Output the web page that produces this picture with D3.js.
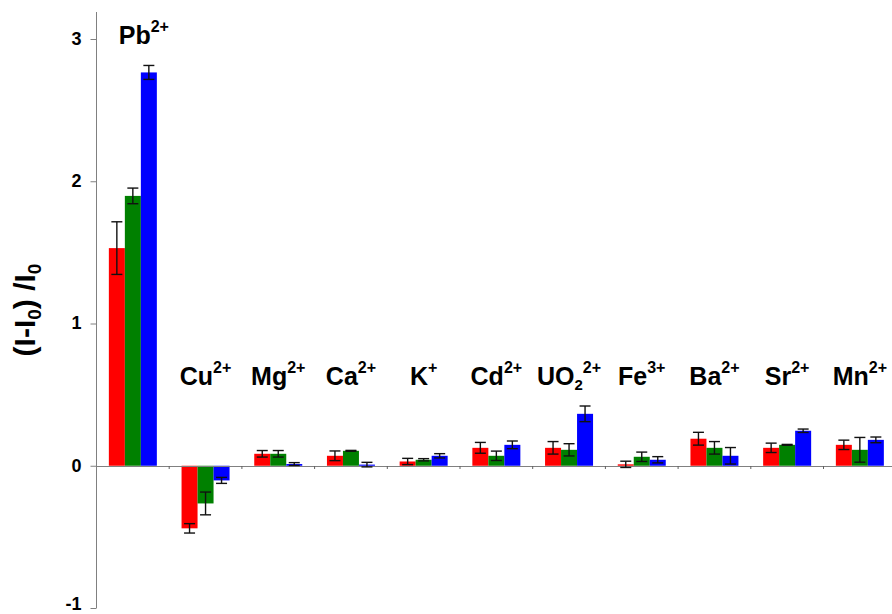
<!DOCTYPE html>
<html>
<head>
<meta charset="utf-8">
<script src="https://cdn.jsdelivr.net/npm/d3@7"></script>
<style>
  body { margin: 0; background: #fff; }
  svg { display: block; }
  text { font-family: Arial, "Liberation Sans", sans-serif; font-weight: bold; fill: #000; }
</style>
</head>
<body>
<svg id="chart" width="892" height="614"></svg>
<script>
// Metal ions tested (symbol, optional subscript, charge)
const ions = ["Pb", "Cu", "Mg", "Ca", "K", "Cd", "UO", "Fe", "Ba", "Sr", "Mn"];
const ionSubscripts = ["", "", "", "", "", "", "2", "", "", "", ""];
const ionCharges = ["2+", "2+", "2+", "2+", "+", "2+", "2+", "3+", "2+", "2+", "2+"];

// Relative response (I-I0)/I0 with error bars for the three series
const redValues   = [1.53, -0.44, 0.084, 0.07, 0.03, 0.126, 0.126, 0.01, 0.19, 0.126, 0.147];
const redErrors   = [0.185, 0.033, 0.023, 0.034, 0.022, 0.038, 0.044, 0.022, 0.045, 0.033, 0.033];
const greenValues = [1.897, -0.265, 0.084, 0.105, 0.042, 0.07, 0.112, 0.063, 0.126, 0.147, 0.112];
const greenErrors = [0.055, 0.08, 0.023, 0.003, 0.008, 0.033, 0.043, 0.033, 0.044, 0.003, 0.087];
const blueValues  = [2.765, -0.103, 0.012, 0.008, 0.07, 0.147, 0.365, 0.042, 0.07, 0.246, 0.182];
const blueErrors  = [0.049, 0.021, 0.01, 0.016, 0.015, 0.027, 0.055, 0.022, 0.058, 0.012, 0.02];

const yTicks = [-1, 0, 1, 2, 3];

const seriesValues = [redValues, greenValues, blueValues];
const seriesErrors = [redErrors, greenErrors, blueErrors];
const seriesColors = ["#ff0000", "#008000", "#0000ff"];

const svg = d3.select("#chart");
const axisX = 96.5;
const axisGray = "#808080";

const y = d3.scaleLinear().domain([-1, 3]).range([608, 39]);
const x = d3.scaleBand().domain(ions).range([axisX, axisX + 72.7 * ions.length]);
const groupWidth = 48;
const xs = d3.scaleBand().domain(d3.range(seriesValues.length)).range([0, groupWidth]);
const groupOffset = (x.bandwidth() - groupWidth) / 2;
const y0 = y(0);

// Y axis
const yAxis = d3.axisLeft(y)
  .tickValues(yTicks)
  .tickSize(6)
  .tickSizeOuter(0)
  .tickPadding(9)
  .tickFormat(d => String(d));
const gy = svg.append("g").attr("transform", `translate(${axisX},0)`).call(yAxis);
gy.select(".domain").remove();
gy.selectAll(".tick line").attr("stroke", axisGray);
gy.selectAll(".tick text")
  .attr("font-size", 18)
  .attr("font-family", "Arial, 'Liberation Sans', sans-serif")
  .attr("fill", "#000")
  // the lowest label sits against the bottom edge, so it is raised a little
  .attr("dy", d => d === yTicks[0] ? "0.1em" : "0.3em");

svg.append("line")
  .attr("x1", axisX).attr("x2", axisX)
  .attr("y1", 12).attr("y2", 608)
  .attr("stroke", axisGray);

// Bars
seriesValues.forEach((vals, s) => {
  svg.append("g").selectAll("rect")
    .data(vals)
    .join("rect")
    .attr("x", (d, i) => x(ions[i]) + groupOffset + xs(s))
    .attr("width", xs.bandwidth())
    .attr("y", d => Math.min(y(d), y0))
    .attr("height", d => Math.abs(y(d) - y0))
    .attr("fill", seriesColors[s]);
});

// Zero line and small category ticks
svg.append("line")
  .attr("x1", axisX).attr("x2", 892)
  .attr("y1", Math.round(y0) + 0.5).attr("y2", Math.round(y0) + 0.5)
  .attr("stroke", axisGray);

svg.append("g").selectAll("line")
  .data(ions.slice(0, -1))
  .join("line")
  .attr("x1", d => x(d) + x.bandwidth())
  .attr("x2", d => x(d) + x.bandwidth())
  .attr("y1", Math.round(y0))
  .attr("y2", Math.round(y0) + 3)
  .attr("stroke", "#606060");

// Error bars
const capHalf = 5.5;
seriesValues.forEach((vals, s) => {
  const g = svg.append("g").attr("stroke", "#111").attr("stroke-width", 1.4).attr("fill", "none");
  vals.forEach((v, i) => {
    const e = seriesErrors[s][i];
    const cx = x(ions[i]) + groupOffset + xs(s) + xs.bandwidth() / 2;
    const yt = y(v + e), yb = y(v - e);
    g.append("line").attr("x1", cx).attr("x2", cx).attr("y1", yt).attr("y2", yb);
    g.append("line").attr("x1", cx - capHalf).attr("x2", cx + capHalf).attr("y1", yt).attr("y2", yt);
    g.append("line").attr("x1", cx - capHalf).attr("x2", cx + capHalf).attr("y1", yb).attr("y2", yb);
  });
});

// Ion labels
ions.forEach((ion, i) => {
  const cx = x(ion) + x.bandwidth() / 2;
  const first = i === 0;
  const t = svg.append("text")
    .attr("x", first ? cx + 11 : cx)
    .attr("y", first ? 44 : 385)
    .attr("text-anchor", "middle")
    .attr("font-size", 25);
  t.append("tspan").text(ion);
  const sub = ionSubscripts[i];
  if (sub) {
    t.append("tspan").attr("font-size", 15).attr("dy", 5).text(sub);
  }
  t.append("tspan").attr("font-size", 16).attr("dy", sub ? -17 : -12).text(ionCharges[i]);
});

// Y axis title
const title = svg.append("text")
  .attr("transform", "translate(35,310) rotate(-90)")
  .attr("text-anchor", "middle")
  .attr("font-size", 30);
title.append("tspan").text("(I-I");
title.append("tspan").attr("font-size", 19).attr("dy", 6).text("0");
title.append("tspan").attr("dy", -6).text(") /I");
title.append("tspan").attr("font-size", 19).attr("dy", 6).text("0");
</script>
</body>
</html>
